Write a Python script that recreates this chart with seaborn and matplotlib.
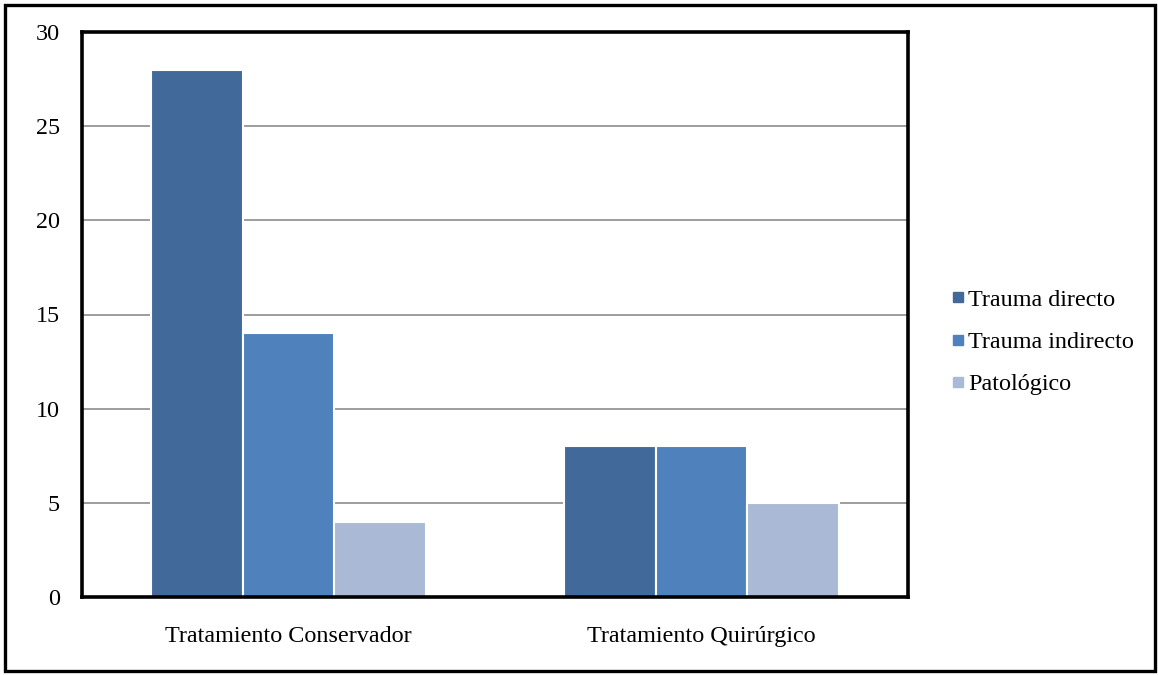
import matplotlib
matplotlib.use("Agg")
import matplotlib.pyplot as plt
import seaborn as sns
import pandas as pd
from matplotlib.patches import Rectangle
from matplotlib.lines import Line2D

categories = ["Tratamiento Conservador", "Tratamiento Quirúrgico"]
series = ["Trauma directo", "Trauma indirecto", "Patológico"]
values = {
    "Trauma directo": [28, 8],
    "Trauma indirecto": [14, 8],
    "Patológico": [4, 5],
}
colors = ["#416A9B", "#4F81BD", "#AAB9D6"]
yticks = [0, 5, 10, 15, 20, 25, 30]

rows = []
for s in series:
    for c, v in zip(categories, values[s]):
        rows.append({"cat": c, "serie": s, "valor": v})
df = pd.DataFrame(rows)

sns.set_theme(style="white")
plt.rcParams["font.family"] = ["Liberation Serif", "DejaVu Serif"]
plt.rcParams["text.color"] = "black"

FS = 17.4

fig = plt.figure(figsize=(11.58, 6.75), dpi=100)
ax = fig.add_axes([82 / 1158, 1 - 597 / 675, (908 - 82) / 1158, (597 - 32) / 675])

# horizontal gridlines behind the bars
for t in yticks[1:-1]:
    ax.axhline(t, color="#8C8C8C", lw=1.2, zorder=0)

sns.barplot(data=df, x="cat", y="valor", hue="serie", hue_order=series,
            order=categories, palette=colors, width=0.665, gap=0,
            edgecolor="white", linewidth=1.5, saturation=1, ax=ax, zorder=2)

ax.set_xlim(-0.5, 1.5)
ax.set_ylim(0, 30)
ax.set_yticks(yticks)
ax.set_xlabel("")
ax.set_ylabel("")
ax.tick_params(axis="both", length=0, labelsize=FS, colors="black")
ax.tick_params(axis="y", pad=16)
ax.tick_params(axis="x", pad=21)
for sp in ax.spines.values():
    sp.set_visible(True)
    sp.set_color("black")
    sp.set_linewidth(2.6)

ax.get_legend().remove()
handles = [Line2D([], [], marker="s", linestyle="none", markersize=7,
                  markerfacecolor=c, markeredgecolor=c) for c in colors]
fig.legend(handles, series, loc="center left", bbox_to_anchor=(940 / 1158, 1 - 342 / 675),
           frameon=False, fontsize=FS, handletextpad=0.05, handlelength=0.7,
           labelspacing=0.85, borderaxespad=0, labelcolor="black")

# outer frame around the whole chart
fig.patches.append(Rectangle((5 / 1158, 4 / 675), 1150 / 1158, 666 / 675,
                             transform=fig.transFigure, fill=False,
                             edgecolor="black", linewidth=2.4))

fig.savefig("out.png", dpi=100, facecolor="white")
